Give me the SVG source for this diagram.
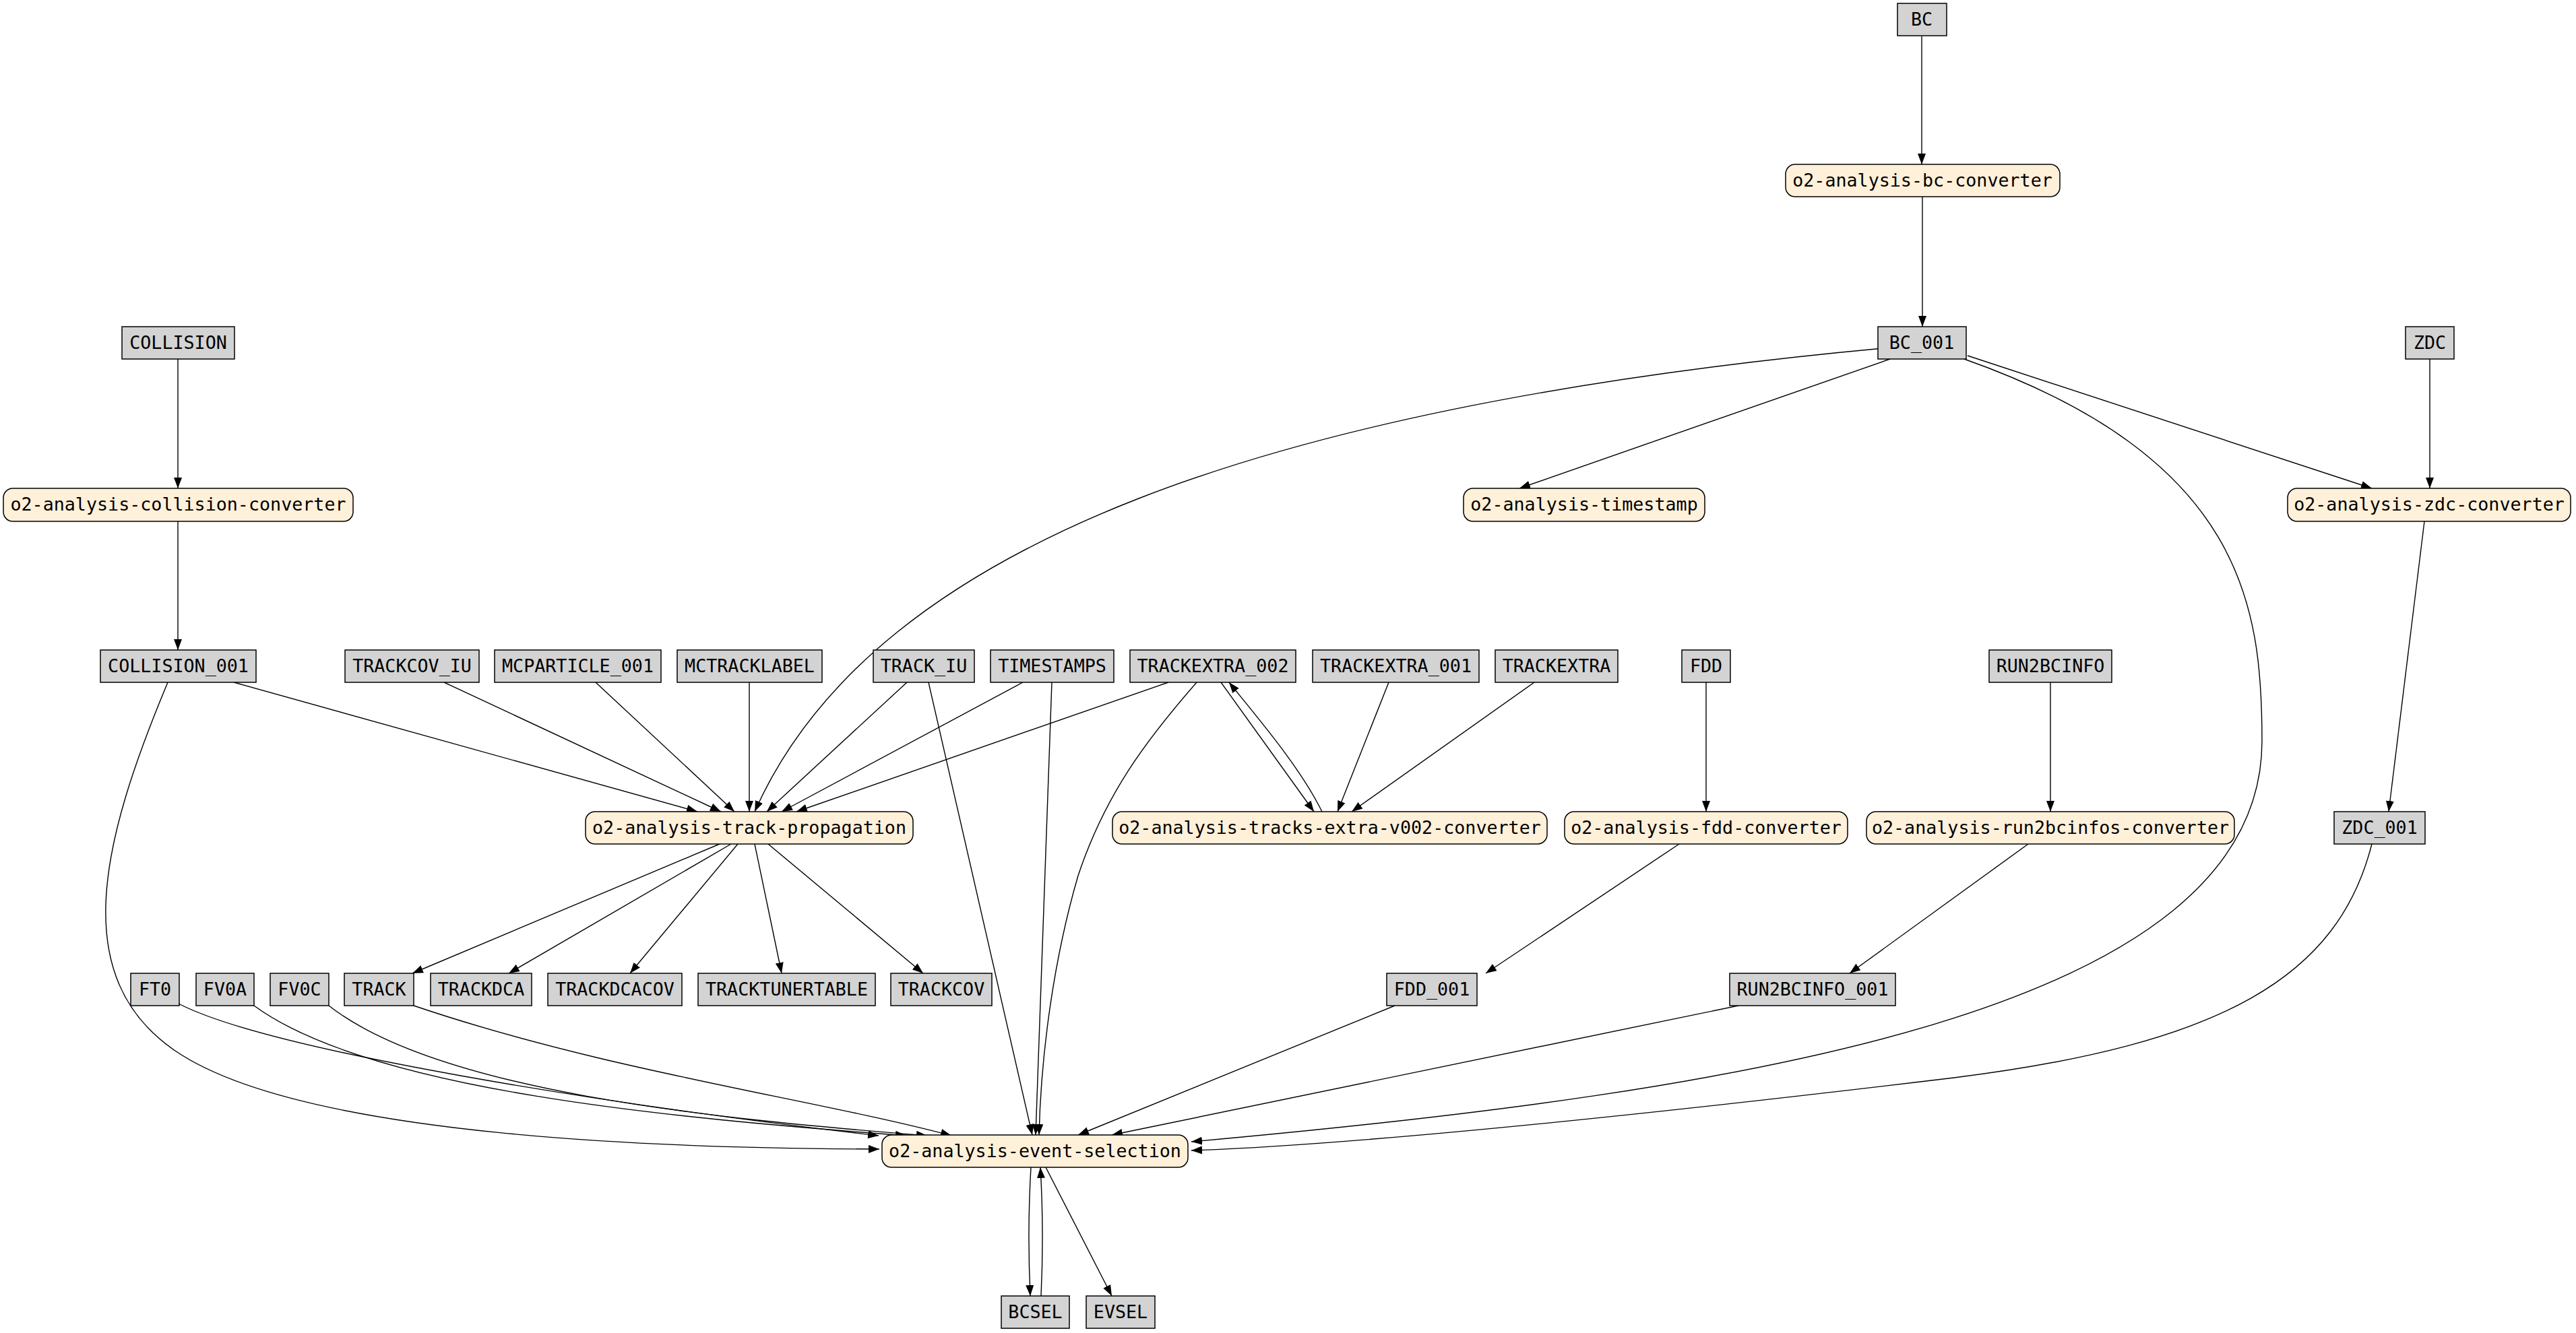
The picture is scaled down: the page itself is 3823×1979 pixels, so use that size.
<svg xmlns="http://www.w3.org/2000/svg" width="3823" height="1979" viewBox="0 0 3823 1979">
<style>
.d rect{fill:#d3d3d3;stroke:#000;stroke-width:1.5}
.p rect{fill:#fff0da;stroke:#000;stroke-width:1.5}
text{font-family:"DejaVu Sans Mono","Liberation Mono",monospace;font-size:26.7px;text-anchor:middle;fill:#000}
#edges path{fill:none;stroke:#000;stroke-width:1.4;marker-end:url(#a)}
</style>
<defs><marker id="a" markerUnits="userSpaceOnUse" markerWidth="16" markerHeight="12" refX="16" refY="6" orient="auto"><path d="M0,0 L16,6 L0,12 Z" fill="#000"/></marker></defs>
<rect width="3823" height="1979" fill="#fff"/>
<g id="edges">
<path d="M2852 54 L2852 244"/>
<path d="M2853 292 L2853 485"/>
<path d="M2795 517 C1900 600, 1300 800, 1120 1205"/>
<path d="M2805 533 L2255 725"/>
<path d="M2915 533 C3330 680, 3357 900, 3357 1100 C3357 1500, 2600 1620, 1768 1695"/>
<path d="M2920 528 L3520 725"/>
<path d="M3606 533 L3606 725"/>
<path d="M3598 774 L3545 1205"/>
<path d="M264 533 L264 725"/>
<path d="M264 774 L264 965"/>
<path d="M347 1013 L1035 1205"/>
<path d="M249 1013 C150 1250, 100 1450, 260 1560 C450 1690, 1000 1705, 1305 1706"/>
<path d="M659 1013 L1070 1205"/>
<path d="M884 1013 L1090 1205"/>
<path d="M1112 1013 L1112 1205"/>
<path d="M1346 1013 L1138 1205"/>
<path d="M1378 1013 L1532 1685"/>
<path d="M1518 1013 L1160 1205"/>
<path d="M1561 1013 L1537 1685"/>
<path d="M1734 1013 L1182 1205"/>
<path d="M1776 1013 C1700 1100, 1640 1180, 1600 1300 C1565 1420, 1545 1560, 1542 1685"/>
<path d="M1812 1013 L1950 1205"/>
<path d="M1962 1205 C1930 1140, 1870 1070, 1824 1013"/>
<path d="M2061 1013 L1985 1205"/>
<path d="M2277 1013 L2006 1205"/>
<path d="M2532 1013 L2532 1205"/>
<path d="M2492 1253 L2205 1445"/>
<path d="M3043 1013 L3043 1205"/>
<path d="M3010 1253 L2745 1445"/>
<path d="M1068 1253 L612 1445"/>
<path d="M1085 1253 L755 1445"/>
<path d="M1095 1253 L935 1445"/>
<path d="M1120 1253 L1160 1445"/>
<path d="M1140 1253 L1370 1445"/>
<path d="M265 1490 C400 1560, 900 1640, 1304 1686"/>
<path d="M377 1493 C550 1620, 1000 1660, 1345 1686"/>
<path d="M488 1493 C650 1620, 1050 1660, 1376 1686"/>
<path d="M614 1493 C900 1590, 1200 1630, 1412 1686"/>
<path d="M2070 1493 L1600 1685"/>
<path d="M2580 1493 L1650 1685"/>
<path d="M3520 1253 C3470 1450, 3300 1550, 2900 1600 C2400 1660, 2000 1700, 1768 1708"/>
<path d="M1530 1733 C1526 1800, 1526 1860, 1529 1924"/>
<path d="M1545 1924 C1548 1860, 1548 1800, 1544 1733"/>
<path d="M1552 1733 L1650 1924"/>
</g>
<g id="BC" class="d"><rect x="2816" y="5" width="73" height="48"/><text x="2852" y="38">BC</text></g>
<g id="bcconv" class="p"><rect x="2650" y="244" width="407" height="48" rx="14"/><text x="2853" y="277">o2-analysis-bc-converter</text></g>
<g id="BC_001" class="d"><rect x="2787" y="485" width="131" height="48"/><text x="2852" y="518">BC_001</text></g>
<g id="ZDC" class="d"><rect x="3570" y="485" width="72" height="48"/><text x="3606" y="518">ZDC</text></g>
<g id="COLLISION" class="d"><rect x="181" y="485" width="167" height="48"/><text x="264.5" y="518">COLLISION</text></g>
<g id="collconv" class="p"><rect x="5" y="725" width="519" height="49" rx="14"/><text x="264.5" y="758">o2-analysis-collision-converter</text></g>
<g id="timestamp" class="p"><rect x="2172" y="725" width="358" height="49" rx="14"/><text x="2351" y="758">o2-analysis-timestamp</text></g>
<g id="zdcconv" class="p"><rect x="3395" y="725" width="420" height="49" rx="14"/><text x="3605" y="758">o2-analysis-zdc-converter</text></g>
<g id="COLLISION_001" class="d"><rect x="149" y="965" width="231" height="48"/><text x="264.5" y="998">COLLISION_001</text></g>
<g id="TRACKCOV_IU" class="d"><rect x="512" y="965" width="199" height="48"/><text x="611.5" y="998">TRACKCOV_IU</text></g>
<g id="MCPARTICLE_001" class="d"><rect x="734" y="965" width="247" height="48"/><text x="857.5" y="998">MCPARTICLE_001</text></g>
<g id="MCTRACKLABEL" class="d"><rect x="1005" y="965" width="215" height="48"/><text x="1112.5" y="998">MCTRACKLABEL</text></g>
<g id="TRACK_IU" class="d"><rect x="1296" y="965" width="150" height="48"/><text x="1371" y="998">TRACK_IU</text></g>
<g id="TIMESTAMPS" class="d"><rect x="1470" y="965" width="183" height="48"/><text x="1561.5" y="998">TIMESTAMPS</text></g>
<g id="TRACKEXTRA_002" class="d"><rect x="1677" y="965" width="246" height="48"/><text x="1800" y="998">TRACKEXTRA_002</text></g>
<g id="TRACKEXTRA_001" class="d"><rect x="1948" y="965" width="247" height="48"/><text x="2071.5" y="998">TRACKEXTRA_001</text></g>
<g id="TRACKEXTRA" class="d"><rect x="2219" y="965" width="182" height="48"/><text x="2310" y="998">TRACKEXTRA</text></g>
<g id="FDD" class="d"><rect x="2496" y="965" width="72" height="48"/><text x="2532" y="998">FDD</text></g>
<g id="RUN2BCINFO" class="d"><rect x="2952" y="965" width="182" height="48"/><text x="3043" y="998">RUN2BCINFO</text></g>
<g id="trackprop" class="p"><rect x="869" y="1205" width="486" height="48" rx="14"/><text x="1112" y="1238">o2-analysis-track-propagation</text></g>
<g id="teconv" class="p"><rect x="1651" y="1205" width="645" height="48" rx="14"/><text x="1973.5" y="1238">o2-analysis-tracks-extra-v002-converter</text></g>
<g id="fddconv" class="p"><rect x="2322" y="1205" width="420" height="48" rx="14"/><text x="2532" y="1238">o2-analysis-fdd-converter</text></g>
<g id="run2conv" class="p"><rect x="2770" y="1205" width="546" height="48" rx="14"/><text x="3043" y="1238">o2-analysis-run2bcinfos-converter</text></g>
<g id="ZDC_001" class="d"><rect x="3464" y="1205" width="135" height="48"/><text x="3531.5" y="1238">ZDC_001</text></g>
<g id="FT0" class="d"><rect x="194" y="1445" width="72" height="48"/><text x="230" y="1478">FT0</text></g>
<g id="FV0A" class="d"><rect x="291" y="1445" width="86" height="48"/><text x="334" y="1478">FV0A</text></g>
<g id="FV0C" class="d"><rect x="401" y="1445" width="87" height="48"/><text x="444.5" y="1478">FV0C</text></g>
<g id="TRACK" class="d"><rect x="511" y="1445" width="103" height="48"/><text x="562.5" y="1478">TRACK</text></g>
<g id="TRACKDCA" class="d"><rect x="639" y="1445" width="150" height="48"/><text x="714" y="1478">TRACKDCA</text></g>
<g id="TRACKDCACOV" class="d"><rect x="813" y="1445" width="199" height="48"/><text x="912.5" y="1478">TRACKDCACOV</text></g>
<g id="TRACKTUNERTABLE" class="d"><rect x="1036" y="1445" width="263" height="48"/><text x="1167.5" y="1478">TRACKTUNERTABLE</text></g>
<g id="TRACKCOV" class="d"><rect x="1322" y="1445" width="150" height="48"/><text x="1397" y="1478">TRACKCOV</text></g>
<g id="FDD_001" class="d"><rect x="2058" y="1445" width="134" height="48"/><text x="2125" y="1478">FDD_001</text></g>
<g id="RUN2BCINFO_001" class="d"><rect x="2567" y="1445" width="246" height="48"/><text x="2690" y="1478">RUN2BCINFO_001</text></g>
<g id="evsel" class="p"><rect x="1309" y="1685" width="454" height="48" rx="14"/><text x="1536" y="1718">o2-analysis-event-selection</text></g>
<g id="BCSEL" class="d"><rect x="1486" y="1924" width="101" height="48"/><text x="1536.5" y="1957">BCSEL</text></g>
<g id="EVSEL" class="d"><rect x="1612" y="1924" width="102" height="48"/><text x="1663" y="1957">EVSEL</text></g>
</svg>
